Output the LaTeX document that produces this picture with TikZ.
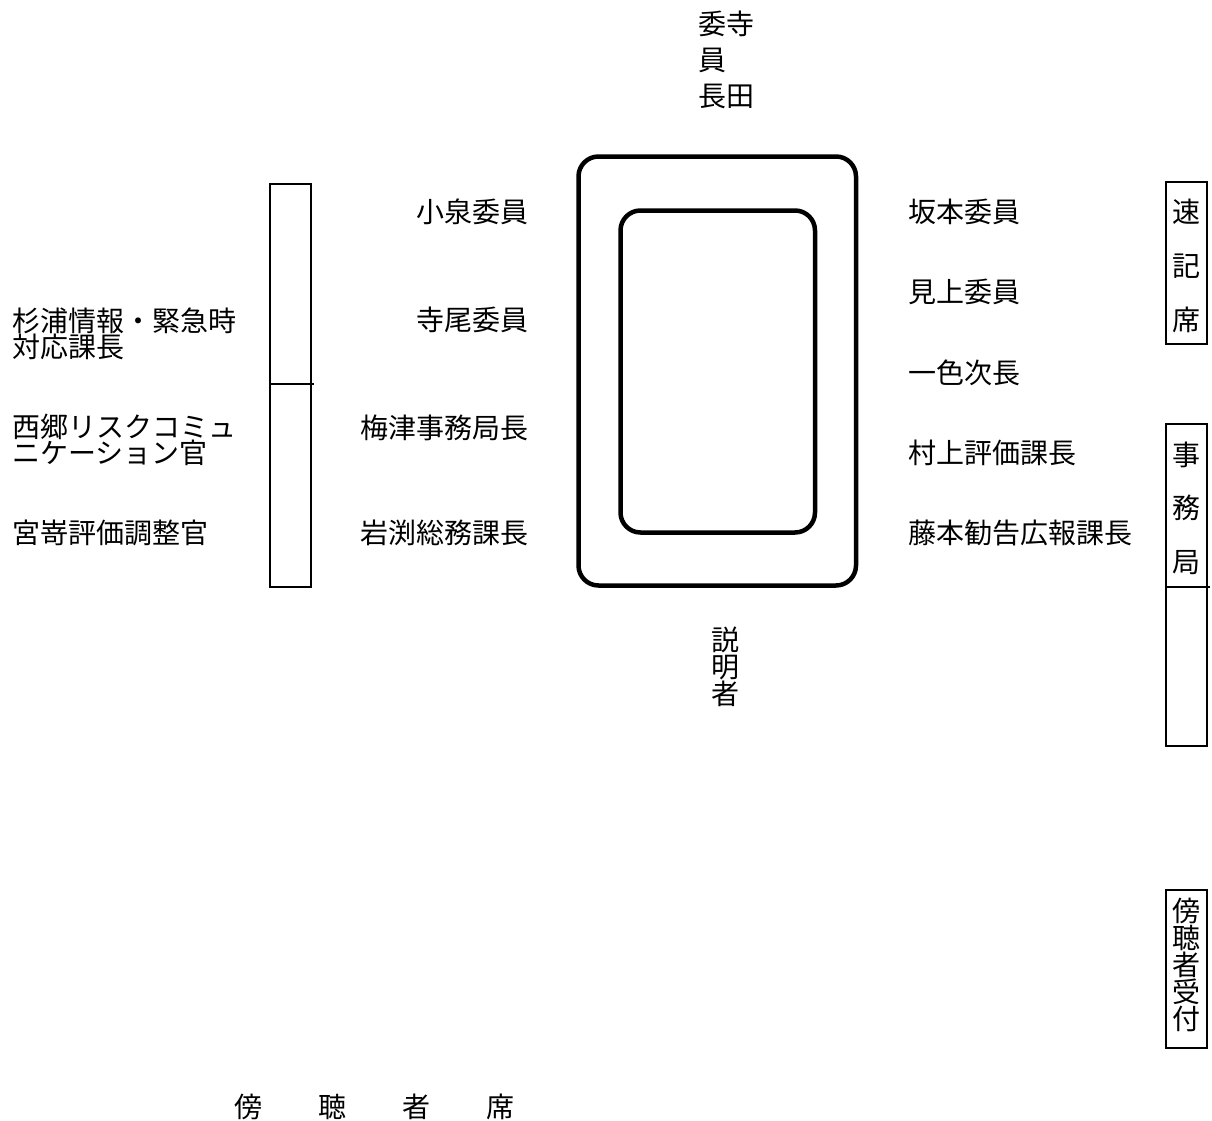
\documentclass[tikz,border=0pt]{standalone}
\usepackage{fontspec}
\newfontfamily\jpfont{Noto Sans CJK JP}
\lineskiplimit=-100pt

\begin{document}
\begin{tikzpicture}[x=1pt,y=-1pt,inner sep=0pt,
  seat/.style={font=\jpfont\fontsize{28}{28}\selectfont},
  table/.style={line width=4.5pt,rounded corners=20pt},
  desk/.style={line width=1.6pt}]
\useasboundingbox (0,0) rectangle (1212,1121);

% main table
\draw[table] (578.5,156.5) rectangle (856,585.5);
\draw[table] (620.5,210.5) rectangle (815,532.5);

% left desk
\draw[desk] (270,184) rectangle (311,587);
\draw[desk] (270,384) -- (314,384);

% right desks
\draw[desk] (1166,182) rectangle (1207,344);
\draw[desk] (1166,424) rectangle (1207,746);
\draw[desk] (1166,587) -- (1210,587);
\draw[desk] (1166,890) rectangle (1207,1048);

% chair
\node[seat,align=left,anchor=west,font=\jpfont\fontsize{28}{36}\selectfont] (chair) at (698,60) {委寺\\員\\長田};

% left of table
\node[seat,anchor=east] (koizumi) at (529,212) {小泉委員};
\node[seat,anchor=east] (terao) at (529,320) {寺尾委員};
\node[seat,anchor=east] (umezu) at (529,428) {梅津事務局長};
\node[seat,anchor=east] (iwabuchi) at (529,533) {岩渕総務課長};

% right of table
\node[seat,anchor=west] (sakamoto) at (908,212) {坂本委員};
\node[seat,anchor=west] (mikami) at (908,292) {見上委員};
\node[seat,anchor=west] (isshiki) at (908,373) {一色次長};
\node[seat,anchor=west] (murakami) at (908,453) {村上評価課長};
\node[seat,anchor=west] (fujimoto) at (908,533) {藤本勧告広報課長};

% far left
\node[seat,align=left,anchor=west,font=\jpfont\fontsize{28}{26}\selectfont] (sugiura) at (12,334) {杉浦情報・緊急時\\対応課長};
\node[seat,align=left,anchor=west,font=\jpfont\fontsize{28}{26}\selectfont] (saigo) at (12,440) {西郷リスクコミュ\\ニケーション官};
\node[seat,anchor=west] (miyazaki) at (12,533) {宮嵜評価調整官};

% below table
\node[seat,align=center,font=\jpfont\fontsize{28}{27}\selectfont] (speaker) at (725,667) {説\\明\\者};

% right side labels
\node[seat,align=center,font=\jpfont\fontsize{28}{54}\selectfont] (stenog) at (1186.5,266) {速\\記\\席};
\node[seat,align=center,font=\jpfont\fontsize{28}{53.5}\selectfont] (office) at (1186.5,508) {事\\務\\局};
\node[seat,align=center,font=\jpfont\fontsize{28}{27}\selectfont] (reception) at (1186.5,965) {傍\\聴\\者\\受\\付};

% public seats
\node[seat,anchor=west] (public) at (234,1107) {傍　　聴　　者　　席};

\end{tikzpicture}
\end{document}
